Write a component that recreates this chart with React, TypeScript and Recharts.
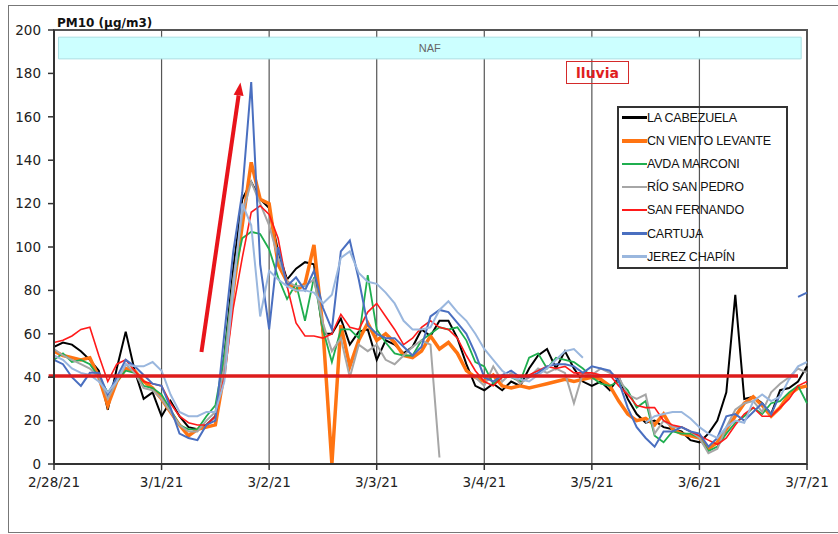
import React from 'react';
import { LineChart, Line, XAxis, YAxis, CartesianGrid, ReferenceLine, ReferenceArea } from 'recharts';

// sample times (hours since 2/28/21 00:00), every 2 hours
const hours: number[] = Array.from({ length: 85 }, (_, i) => i * 2);

const dayTicks = [0, 24, 48, 72, 96, 120, 144, 168];
const dayLabels = ['2/28/21', '3/1/21', '3/2/21', '3/3/21', '3/4/21', '3/5/21', '3/6/21', '3/7/21'];
const yTicks = [0, 20, 40, 60, 80, 100, 120, 140, 160, 180, 200];

const seriesNames = ['LA CABEZUELA', 'CN VIENTO LEVANTE', 'AVDA MARCONI', 'RÍO SAN PEDRO', 'SAN FERNANDO', 'CARTUJA', 'JEREZ CHAPÍN'];

const laCabezuela = [
  54, 56, 55, 52, 48, 43, 25, 44, 61, 43, 30, 33,
  22, 29, 22, 17, 16, 18, 22, 50, 90, 122, 130, 122,
  118, 98, 85, 90, 93, 92, 60, 60, 67, 55, 61, 62,
  48, 57, 55, 51, 54, 62, 59, 66, 66, 58, 46, 36,
  34, 37, 34, 38, 36, 44, 50, 53, 44, 52, 44, 38,
  36, 38, 34, 40, 30, 23, 19, 20, 17, 16, 15, 11,
  10, 14, 20, 33, 78, 30, 31, 28, 23, 34, 35, 38,
  45,
];
const cnVientoLevante = [
  52, 50, 49, 48, 49, 40, 27, 38, 44, 43, 38, 35,
  30, 24, 18, 13, 16, 17, 18, 42, 80, 110, 139, 122,
  120, 92, 84, 80, 83, 101, 62, 0, 64, 45, 57, 65,
  57, 60, 56, 50, 49, 52, 59, 53, 56, 51, 43, 40,
  38, 41, 36, 35, 36, 35, 36, 37, 38, 39, 38, 39,
  40, 39, 36, 29, 23, 20, 21, 18, 23, 16, 14, 13,
  12, 7, 10, 16, 22, 28, 31, 27, 22, 26, 32, 35,
  36,
];
const avdaMarconi = [
  48, 51, 47, 48, 46, 40, 33, 38, 43, 42, 36, 35,
  32, 25, 18, 16, 16, 22, 27, 50, 85, 104, 107, 106,
  99, 86, 76, 83, 66, 86, 62, 47, 62, 62, 58, 87,
  62, 56, 51, 50, 50, 57, 60, 63, 62, 63, 57, 47,
  45, 37, 40, 40, 38, 49, 51, 44, 49, 48, 47, 44,
  40, 37, 36, 38, 34, 26, 29, 13, 10, 15, 14, 14,
  12, 6, 8, 14, 19, 22, 26, 23, 28, 29, 33, 36,
  28,
];
const rioSanPedro = [
  53, 50, 48, 46, 44, 40, 30, 38, 46, 42, 35, 34,
  30, 24, 18, 15, 15, 20, 24, 45, 85, 115, 130, 120,
  110, 95, 84, 82, 82, 85, 65, 52, 58, 40, 55, 52,
  55, 48, 46, 50, 54, 57, 55, 3, null, null, null, 40,
  36, 45, 38, 42, 37, 40, 44, 42, 44, 42, 28, 42,
  41, 44, 42, 40, 32, 30, 32, 14, 20, 17, 17, 15,
  12, 5, 7, 17, 25, 28, 29, 24, 33, 37, 40, 44,
  42,
];
const sanFernando = [
  56, 57, 59, 62, 63, 50, 38, 46, 48, 43, 38, 37,
  36, 28, 22, 19, 18, 18, 22, 40, 72, 95, 116, 119,
  115, 104, 82, 65, 59, 59, 58, 60, 69, 63, 62, 70,
  74, 68, 62, 55, 58, 63, 66, 63, 62, 58, 50, 43,
  38, 36, 40, 40, 40, 41, 43, 45, 44, 45, 42, 42,
  42, 41, 41, 36, 32, 27, 26, 26, 20, 18, 17, 15,
  13, 11, 9, 12, 18, 23, 26, 22, 22, 26, 30, 36,
  38,
];
const cartuja = [
  48, 46, 40, 36, 42, 42, 32, 40, 48, 45, 41, 37,
  36, 26, 14, 12, 11, 18, 20, 60, 98, 125, 176, 92,
  62, 100, 82, 86, 80, 89, 72, 62, 98, 103, 85, 64,
  60, 58, 58, 54, 50, 54, 68, 71, 70, 65, 60, 51,
  40, 38, 41, 43, 40, 40, 42, 45, 46, 46, 45, 42,
  45, 44, 43, 38, 26, 17, 12, 8, 15, 15, 17, 15,
  14, 8, 12, 22, 23, 20, 24, 28, 23, 32, null, 77,
  79,
];
const jerezChapin = [
  50, 48, 44, 42, 41, 38, 33, 38, 46, 45, 45, 47,
  43, 32, 24, 22, 22, 24, 24, 38, 80, 120, 110, 68,
  89, 85, 82, 80, 80, 79, 74, 78, 95, 98, 88, 84,
  83, 79, 74, 66, 62, 62, 63, 71, 75, 70, 66, 60,
  53, 48, 43, 40, 39, 38, 41, 44, 48, 52, 53, 49,
  null, null, null, null, null, null, 19, 22, 23, 24, 24, 21,
  17, 14, 12, 17, 20, 19, 29, 32, 29, 31, 39, 45,
  47,
];

const seriesValues = [laCabezuela, cnVientoLevante, avdaMarconi, rioSanPedro, sanFernando, cartuja, jerezChapin];
const seriesColors = ['#000000', '#ff7412', '#1fae4f', '#a6a6a6', '#ff1a1a', '#4a6fc0', '#9ab7de'];
const seriesWidths = [2, 3.5, 1.8, 2, 1.6, 2, 2];

const data = hours.map((h, i) => {
  const row: Record<string, number | null> = { h };
  seriesValues.forEach((arr, s) => {
    row['s' + s] = arr[i];
  });
  return row;
});

const tickFont = { fontFamily: 'DejaVu Sans', fontSize: 13.5, fill: '#222' };

const arrowShape = (p: any) => {
  const { x1, y1, x2, y2 } = p;
  const dx = x2 - x1;
  const dy = y2 - y1;
  const len = Math.hypot(dx, dy) || 1;
  const ux = dx / len;
  const uy = dy / len;
  const hl = 13;
  const hw = 5;
  const bx = x2 - ux * hl;
  const by = y2 - uy * hl;
  const nx = -uy;
  const ny = ux;
  return (
    <g>
      <line x1={x1} y1={y1} x2={bx} y2={by} stroke="#e8141b" strokeWidth={4} />
      <polygon
        points={`${x2},${y2} ${bx + nx * hw},${by + ny * hw} ${bx - nx * hw},${by - ny * hw}`}
        fill="#e8141b"
      />
    </g>
  );
};

export default function App() {
  return (
    <div style={{ position: 'absolute', left: 0, top: 0, width: 838, height: 534, overflow: 'hidden' }}>
      <div
        style={{
          position: 'absolute',
          left: 8,
          top: 5,
          width: 840,
          height: 528,
          border: '1px solid #777',
          boxSizing: 'border-box',
        }}
      />
      <div style={{ position: 'absolute', left: 0, top: 0 }}>
        <LineChart width={838} height={534} data={data} margin={{ top: 30, right: 31, bottom: 40, left: 9 }}>
          <CartesianGrid vertical horizontal={false} stroke="#555" strokeWidth={1.2} />
          <ReferenceArea
            x1={1}
            x2={166.7}
            y1={186.7}
            y2={196.7}
            fill="#ccffff"
            fillOpacity={1}
            stroke="#a9dfe3"
            strokeWidth={1}
            label={{ value: 'NAF', position: 'center', fill: '#666', fontSize: 11, fontFamily: 'Liberation Sans' }}
          />
          <ReferenceArea x1={0} x2={168} y1={0} y2={200} fill="none" fillOpacity={0} stroke="#555" strokeWidth={2} />
          <XAxis
            dataKey="h"
            type="number"
            domain={[0, 168]}
            ticks={dayTicks}
            interval={0}
            tickFormatter={(v: number) => dayLabels[dayTicks.indexOf(v)] ?? ''}
            tick={tickFont}
            tickSize={6}
            tickMargin={7}
            height={30}
            axisLine={{ stroke: '#333', strokeWidth: 2 }}
            tickLine={{ stroke: '#333', strokeWidth: 1.5 }}
          />
          <YAxis
            type="number"
            domain={[0, 200]}
            ticks={yTicks}
            interval={0}
            tick={tickFont}
            tickSize={6}
            tickMargin={7}
            width={45}
            axisLine={{ stroke: '#333', strokeWidth: 2 }}
            tickLine={{ stroke: '#333', strokeWidth: 1.5 }}
          />
          {seriesNames.map((name, s) => (
            <Line
              key={name}
              name={name}
              dataKey={'s' + s}
              type="linear"
              stroke={seriesColors[s]}
              strokeWidth={seriesWidths[s]}
              dot={false}
              activeDot={false}
              isAnimationActive={false}
              connectNulls={false}
            />
          ))}
          <ReferenceLine
            segment={[{ x: -1.2, y: 40.5 }, { x: 166, y: 40.5 }]}
            ifOverflow="visible"
            stroke="#dd1c1c"
            strokeWidth={3.5}
          />
          <ReferenceLine
            segment={[{ x: 32.9, y: 51.6 }, { x: 41.6, y: 175.8 }]}
            ifOverflow="visible"
            stroke="#e8141b"
            shape={arrowShape}
          />
        </LineChart>
      </div>
      <div
        style={{
          position: 'absolute',
          left: 57,
          top: 15.5,
          fontFamily: 'DejaVu Sans',
          fontWeight: 'bold',
          fontSize: 12,
          color: '#111',
          whiteSpace: 'nowrap',
        }}
      >
        PM10 (µg/m3)
      </div>
      <div
        style={{
          position: 'absolute',
          left: 566,
          top: 61,
          width: 63,
          height: 23,
          border: '1.5px solid #d42a2a',
          boxSizing: 'border-box',
          display: 'flex',
          alignItems: 'center',
          justifyContent: 'center',
          fontFamily: 'DejaVu Sans',
          fontWeight: 'bold',
          fontSize: 14,
          color: '#e01e1e',
        }}
      >
        lluvia
      </div>
      <div
        style={{
          position: 'absolute',
          left: 617,
          top: 106,
          width: 171,
          height: 163,
          border: '2px solid #333',
          boxSizing: 'border-box',
        }}
      >
        {seriesNames.map((name, s) => (
          <div
            key={name}
            style={{
              position: 'absolute',
              left: 3,
              top: 1.5 + s * 23.2,
              height: 16,
              display: 'flex',
              alignItems: 'center',
              whiteSpace: 'nowrap',
            }}
          >
            <div style={{ width: 25, height: seriesWidths[s] + 0.6, background: seriesColors[s] }} />
            <span
              style={{
                fontFamily: 'Liberation Sans',
                fontSize: 12.5,
                color: '#111',
                letterSpacing: -0.2,
              }}
            >
              {name}
            </span>
          </div>
        ))}
      </div>
    </div>
  );
}
